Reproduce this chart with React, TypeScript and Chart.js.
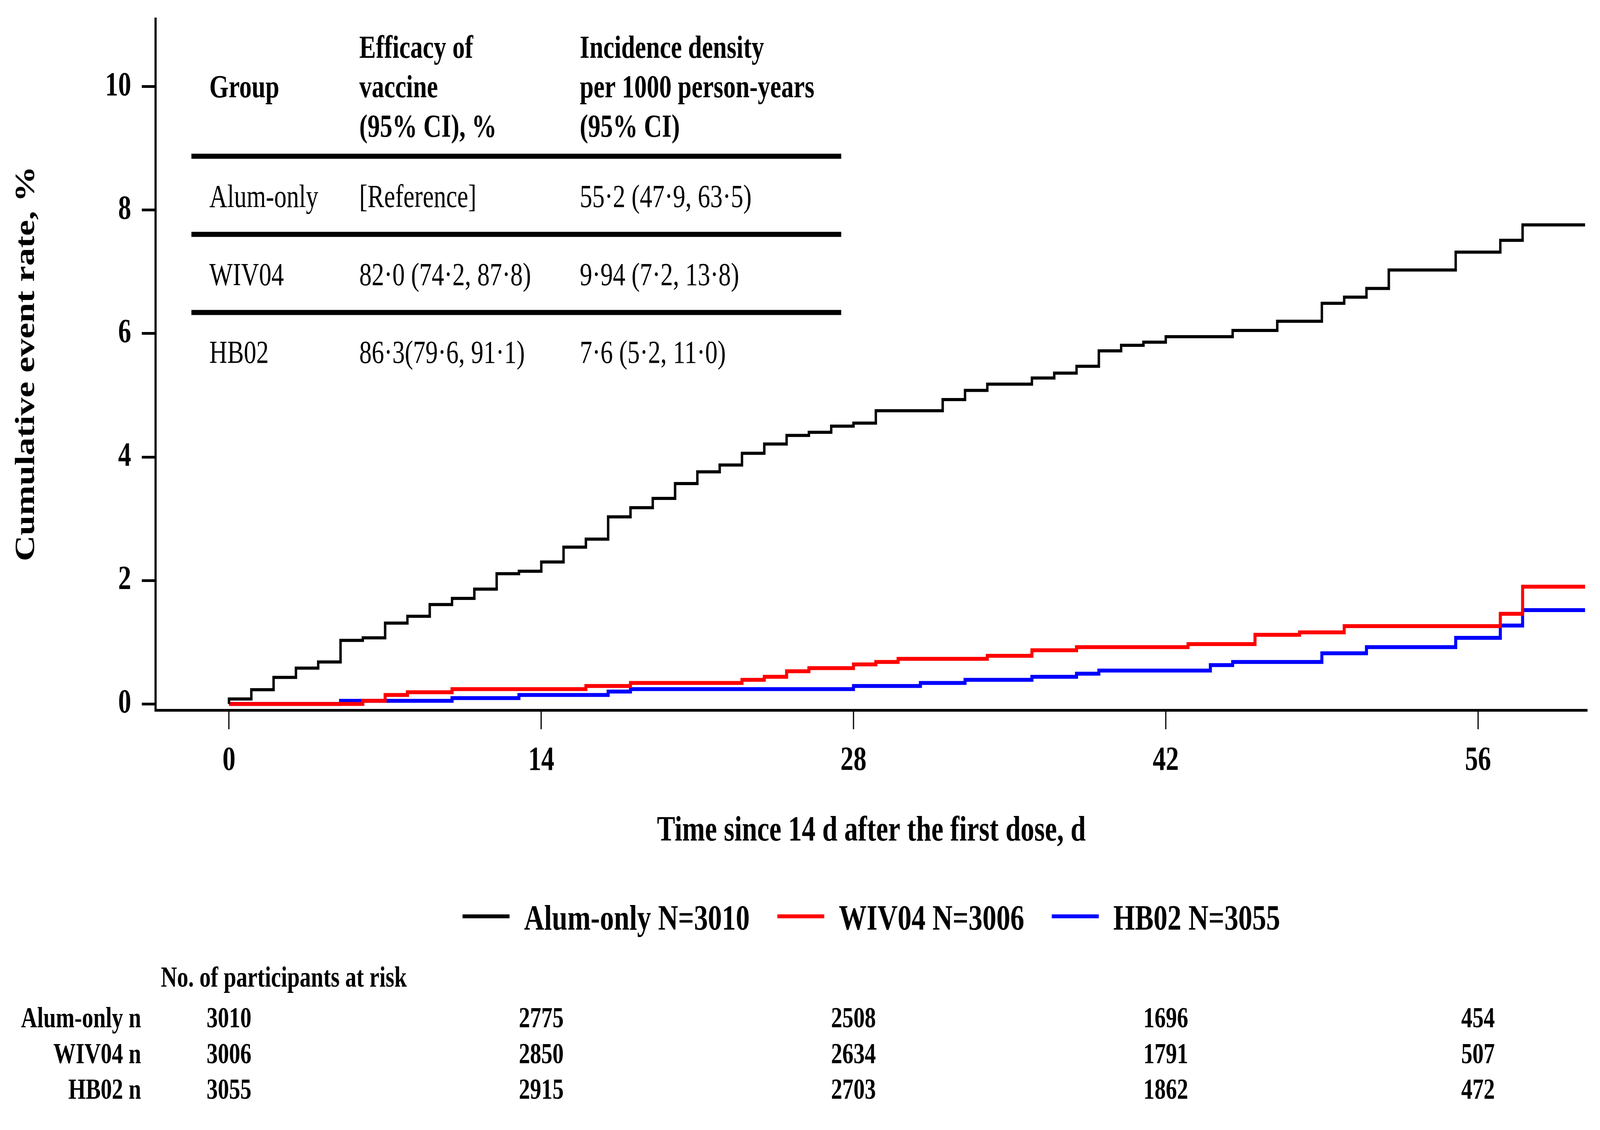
import React, { useEffect, useRef } from 'react';
import { Chart, registerables } from 'chart.js';

Chart.register(...registerables);

const W = 5282;
const H = 2893;
const SERIF = '"Liberation Serif", "Times New Roman", Times, serif';

// ---- data ----
const groupNames = ['Alum-only', 'WIV04', 'HB02'];
const groupN = [3010, 3006, 3055];
const groupColors = ['#000000', '#ff0000', '#0000ff'];

const alumDays = [0, 0, 1, 2, 3, 4, 5, 6, 7, 8, 9, 10, 11, 12, 13, 14, 15, 16, 17, 18, 19, 20, 21, 22, 23, 24, 25, 26, 27, 28, 29, 32, 33, 34, 36, 37, 38, 39, 40, 41, 42, 45, 47, 49, 50, 51, 52, 55, 57, 58, 60.8];
const alumRate = [0, 0.08, 0.23, 0.43, 0.58, 0.68, 1.03, 1.07, 1.31, 1.42, 1.61, 1.71, 1.86, 2.11, 2.15, 2.30, 2.54, 2.67, 3.03, 3.18, 3.33, 3.57, 3.76, 3.87, 4.06, 4.21, 4.35, 4.40, 4.50, 4.55, 4.75, 4.93, 5.08, 5.18, 5.28, 5.36, 5.47, 5.72, 5.81, 5.86, 5.95, 6.05, 6.20, 6.49, 6.59, 6.73, 7.03, 7.32, 7.51, 7.76, 7.76];

const wiv04Days = [0, 6, 7, 8, 10, 16, 18, 23, 24, 25, 26, 28, 29, 30, 34, 36, 38, 43, 46, 48, 50, 57, 58, 60.8];
const wiv04Rate = [0.0, 0.05, 0.145, 0.19, 0.24, 0.29, 0.34, 0.39, 0.44, 0.53, 0.58, 0.64, 0.68, 0.73, 0.78, 0.87, 0.92, 0.97, 1.12, 1.16, 1.26, 1.46, 1.90, 1.90];

const hb02Days = [0, 5, 10, 13, 17, 18, 28, 31, 33, 36, 38, 39, 44, 45, 49, 51, 55, 57, 58, 60.8];
const hb02Rate = [0.0, 0.05, 0.095, 0.145, 0.20, 0.24, 0.29, 0.34, 0.39, 0.44, 0.49, 0.54, 0.63, 0.68, 0.82, 0.92, 1.07, 1.27, 1.52, 1.52];

const xTickValues = [0, 14, 28, 42, 56];
const yTickValues = [0, 2, 4, 6, 8, 10];

const riskTimes = [0, 14, 28, 42, 56];
const alumRisk = [3010, 2775, 2508, 1696, 454];
const wiv04Risk = [3006, 2850, 2634, 1791, 507];
const hb02Risk = [3055, 2915, 2703, 1862, 472];
const riskRowLabels = ['Alum-only n', 'WIV04 n', 'HB02 n'];

const tableHeaderGroup = 'Group';
const tableHeaderEfficacy = ['Efficacy of', 'vaccine', '(95% CI), %'];
const tableHeaderIncidence = ['Incidence density', 'per 1000 person-years', '(95% CI)'];
const tableEfficacy = ['[Reference]', '82\u00b70 (74\u00b72, 87\u00b78)', '86\u00b73(79\u00b76, 91\u00b71)'];
const tableIncidence = ['55\u00b72 (47\u00b79, 63\u00b75)', '9\u00b794 (7\u00b72, 13\u00b78)', '7\u00b76 (5\u00b72, 11\u00b70)'];

const xTitle = 'Time since 14 d after the first dose, d';
const yTitle = 'Cumulative event rate, %';
const riskTitle = 'No. of participants at risk';

const toPoints = (days: number[], rates: number[]) => days.map((d, i) => ({ x: d, y: rates[i] }));

const overlayPlugin = {
  id: 'overlay',
  beforeDraw(chart: any) {
    const ctx = chart.ctx;
    ctx.save();
    ctx.fillStyle = '#ffffff';
    ctx.fillRect(0, 0, chart.width, chart.height);
    ctx.restore();
  },
  afterDraw(chart: any) {
    const ctx: CanvasRenderingContext2D = chart.ctx;
    const area = chart.chartArea;
    const xs = chart.scales.x;
    ctx.save();
    ctx.fillStyle = '#000';
    ctx.strokeStyle = '#000';

    // y title
    ctx.save();
    ctx.translate(88, 931);
    ctx.rotate(-Math.PI / 2);
    ctx.font = `bold 92px ${SERIF}`;
    ctx.textAlign = 'center';
    ctx.textBaseline = 'middle';
    ctx.fillText(yTitle, 0, 0);
    ctx.restore();

    // x title
    ctx.font = `bold 90px ${SERIF}`;
    ctx.textAlign = 'center';
    ctx.textBaseline = 'alphabetic';
    ctx.fillText(xTitle, (area.left + area.right) / 2, 2152);

    // inset table
    const colX = [691, 1186, 1914];
    const headBase = [148, 249, 350];
    ctx.textAlign = 'left';
    ctx.font = `bold 82px ${SERIF}`;
    ctx.fillText(tableHeaderGroup, colX[0], headBase[1]);
    tableHeaderEfficacy.forEach((t, i) => ctx.fillText(t, colX[1], headBase[i]));
    tableHeaderIncidence.forEach((t, i) => ctx.fillText(t, colX[2], headBase[i]));
    ctx.lineWidth = 13;
    [400, 600, 800].forEach((y) => {
      ctx.beginPath();
      ctx.moveTo(632, y);
      ctx.lineTo(2777, y);
      ctx.stroke();
    });
    ctx.font = `82px ${SERIF}`;
    const bodyBase = [530, 730, 929];
    groupNames.forEach((g, i) => {
      ctx.fillText(g, colX[0], bodyBase[i]);
      ctx.fillText(tableEfficacy[i], colX[1], bodyBase[i]);
      ctx.fillText(tableIncidence[i], colX[2], bodyBase[i]);
    });

    // legend
    ctx.font = `bold 92px ${SERIF}`;
    const sampleLen = 155;
    const sampleGap = 48;
    const itemGap = 91;
    const labels = chart.data.datasets.map((d: any) => d.label as string);
    const widths = labels.map((l: string) => ctx.measureText(l).width);
    const total = widths.reduce((a: number, w: number) => a + sampleLen + sampleGap + w, 0) + itemGap * (labels.length - 1);
    let lx = (area.left + area.right) / 2 - total / 2;
    const ly = 2346;
    labels.forEach((l: string, i: number) => {
      ctx.strokeStyle = chart.data.datasets[i].borderColor;
      ctx.lineWidth = 10;
      ctx.beginPath();
      ctx.moveTo(lx, ly);
      ctx.lineTo(lx + sampleLen, ly);
      ctx.stroke();
      ctx.fillStyle = '#000';
      ctx.textAlign = 'left';
      ctx.fillText(l, lx + sampleLen + sampleGap, 2380);
      lx += sampleLen + sampleGap + widths[i] + itemGap;
    });

    // risk table
    ctx.font = `bold 74px ${SERIF}`;
    ctx.fillStyle = '#000';
    ctx.textAlign = 'left';
    ctx.fillText(riskTitle, 531, 2526);
    const rows = [alumRisk, wiv04Risk, hb02Risk];
    const rowBase = [2630, 2722, 2813];
    rows.forEach((r, i) => {
      ctx.textAlign = 'right';
      ctx.fillText(riskRowLabels[i], 466, rowBase[i]);
      ctx.textAlign = 'center';
      r.forEach((v, j) => ctx.fillText(String(v), xs.getPixelForValue(riskTimes[j]), rowBase[i]));
    });

    ctx.restore();
  },
};

export default function App() {
  const ref = useRef<HTMLCanvasElement>(null);

  useEffect(() => {
    const canvas = ref.current;
    if (!canvas) return;
    const vw = window.innerWidth || W;
    const vh = window.innerHeight || H;
    const sx = Math.min(1, vw / W);
    const sy = Math.min(1, vh / H);
    canvas.style.transformOrigin = '0 0';
    canvas.style.transform = `scale(${sx}, ${sy})`;

    const series = [
      toPoints(alumDays, alumRate),
      toPoints(wiv04Days, wiv04Rate),
      toPoints(hb02Days, hb02Rate),
    ];
    const widthsLine = [8, 10, 10];
    const chart = new Chart(canvas, {
      type: 'line',
      data: {
        datasets: series.map((pts, i) => ({
          label: `${groupNames[i]} N=${groupN[i]}`,
          data: pts,
          borderColor: groupColors[i],
          backgroundColor: groupColors[i],
          borderWidth: widthsLine[i],
          pointRadius: 0,
          stepped: true,
          fill: false,
          borderCapStyle: 'butt',
          borderJoinStyle: 'miter',
        })),
      },
      options: {
        animation: false,
        responsive: false,
        devicePixelRatio: 1,
        parsing: false,
        normalized: true,
        layout: { padding: { left: 0, right: 42, top: 48, bottom: 0 } },
        plugins: {
          legend: { display: false },
          tooltip: { enabled: false },
          title: { display: false },
        },
        scales: {
          x: {
            type: 'linear',
            min: -3.3,
            max: 60.9,
            afterBuildTicks: (s: any) => {
              s.ticks = xTickValues.map((v) => ({ value: v }));
            },
            afterFit: (s: any) => {
              s.height = H - 1818;
              s.paddingLeft = 0;
              s.paddingRight = 0;
            },
            ticks: {
              autoSkip: false,
              maxRotation: 0,
              padding: 30,
              color: '#000',
              font: { family: SERIF, size: 86, weight: 'bold' },
            },
            grid: {
              display: true,
              drawOnChartArea: false,
              drawTicks: true,
              tickLength: 49,
              tickWidth: 4,
              tickColor: '#000',
              color: '#000',
            },
            border: { display: true, color: '#000', width: 7 },
          },
          y: {
            type: 'linear',
            min: -0.1,
            max: 11.1,
            afterBuildTicks: (s: any) => {
              s.ticks = yTickValues.map((v) => ({ value: v }));
            },
            afterFit: (s: any) => {
              s.width = 513;
              s.paddingTop = 0;
              s.paddingBottom = 0;
            },
            ticks: {
              autoSkip: false,
              padding: 35,
              color: '#000',
              font: { family: SERIF, size: 86, weight: 'bold' },
            },
            grid: {
              display: true,
              drawOnChartArea: false,
              drawTicks: true,
              tickLength: 45,
              tickWidth: 7,
              tickColor: '#000',
              color: '#000',
            },
            border: { display: true, color: '#000', width: 7 },
          },
        },
      } as any,
      plugins: [overlayPlugin],
    });
    return () => chart.destroy();
  }, []);

  return (
    <canvas
      ref={ref}
      width={W}
      height={H}
      style={{ position: 'absolute', left: 0, top: 0, width: W, height: H, display: 'block' }}
    />
  );
}
